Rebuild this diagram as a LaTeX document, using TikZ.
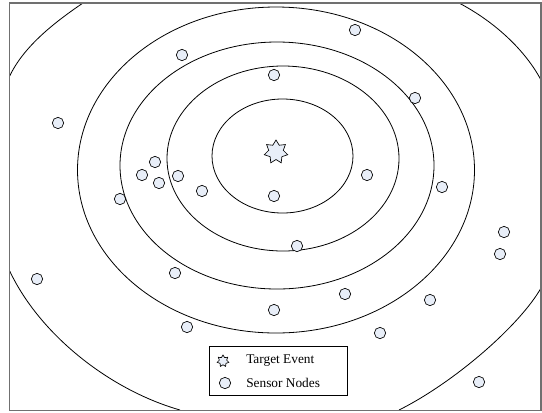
\documentclass[tikz,border=0pt]{standalone}
\usepackage{fontspec}
\setmainfont{Liberation Serif}
\usepackage{tikz}
\usetikzlibrary{shapes.geometric, positioning}
\definecolor{sensorfill}{RGB}{232,238,248}
\definecolor{framegray}{RGB}{112,112,112}
\tikzset{
    sensor/.style={circle, draw=black, fill=sensorfill, line width=0.5pt,
                   minimum size=8.5pt, inner sep=0pt},
    target/.style={star, star points=7, star point ratio=1.6, draw=black,
                   fill=sensorfill, line width=0.5pt, minimum size=18pt, inner sep=0pt},
    rangeline/.style={draw=black, line width=0.6pt},
    legendtext/.style={anchor=west, inner sep=0pt, font=\normalsize}
}

\begin{document}
\begin{tikzpicture}[x=0.75pt, y=-0.75pt]
    \useasboundingbox (0,0) rectangle (542,412);

    % Outer range (only the corners show inside the frame)
    \draw[rangeline] (83,3) .. controls (55,22) and (24,46) .. (9.7,76);
    \draw[rangeline] (9.7,271) .. controls (40,335) and (110,390) .. (180,410);
    \draw[rangeline] (399,410) .. controls (455,382) and (520,325) .. (541,288);
    \draw[rangeline] (459,3) .. controls (495,22) and (525,50) .. (541,80);

    % Ranges
    \draw[rangeline] (282.5,156) ellipse [x radius=70.5, y radius=57];
    \draw[rangeline] (283,158.5) ellipse [x radius=116, y radius=92.5];
    \draw[rangeline] (277,165.5) ellipse [x radius=157, y radius=123.5];
    \draw[rangeline] (276,170) ellipse [x radius=198.5, y radius=163];

    % Frame
    \draw[framegray, line width=0.8pt] (9.5,3) rectangle (541,410.5);

    % Target
    \node[target] (target) at (276,152) {};

    % Sensors
    \node[sensor] (s1) at (182,55) {};
    \node[sensor] (s2) at (355,30) {};
    \node[sensor] (s3) at (274,75) {};
    \node[sensor] (s4) at (415,98) {};
    \node[sensor] (s5) at (58,123) {};
    \node[sensor] (s6) at (155,162) {};
    \node[sensor] (s7) at (142,175) {};
    \node[sensor] (s8) at (159,183) {};
    \node[sensor] (s9) at (178,176) {};
    \node[sensor] (s10) at (202,191) {};
    \node[sensor] (s11) at (120,199) {};
    \node[sensor] (s12) at (274,196) {};
    \node[sensor] (s13) at (367,175) {};
    \node[sensor] (s14) at (442,187) {};
    \node[sensor] (s15) at (297,246) {};
    \node[sensor] (s16) at (504,232) {};
    \node[sensor] (s17) at (500,254) {};
    \node[sensor] (s18) at (37,279) {};
    \node[sensor] (s19) at (175,273) {};
    \node[sensor] (s20) at (345,294) {};
    \node[sensor] (s21) at (430,300) {};
    \node[sensor] (s22) at (274,310) {};
    \node[sensor] (s23) at (187,327) {};
    \node[sensor] (s24) at (380,333) {};
    \node[sensor] (s25) at (479,382) {};

    % Legend
    \node[draw=black, fill=white, line width=0.6pt, minimum width=103.5pt,
          minimum height=36.75pt, inner sep=0pt] (legend) at (278,370.5) {};
    \node[target, minimum size=9pt] (legstar) at (223,361) {};
    \node[sensor] (legsensor) at (225,383) {};
    \node[legendtext] (legstartext) at (246,361) {Target Event};
    \node[legendtext] (legsensortext) at (246,383) {Sensor Nodes};
\end{tikzpicture}
\end{document}
